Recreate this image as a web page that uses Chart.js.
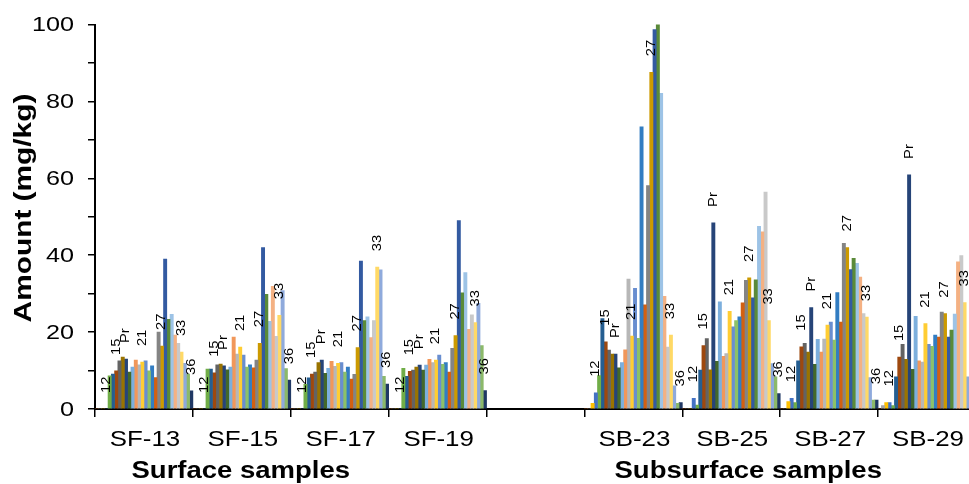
<!DOCTYPE html>
<html>
<head>
<meta charset="utf-8">
<script src="https://cdn.jsdelivr.net/npm/chart.js@4.4.1/dist/chart.umd.min.js"></script>
<style>
  html, body { margin: 0; padding: 0; background: #ffffff; overflow: hidden; }
  #wrap { width: 985px; height: 484px; }
</style>
</head>
<body>
<div id="wrap"><canvas id="c" width="985" height="484"></canvas></div>
<script>
// ---- data ----
const categories = ['SF-13', 'SF-15', 'SF-17', 'SF-19', '', 'SB-23', 'SB-25', 'SB-27', 'SB-29'];
const compounds = ['C9','C10','C11','C12','C13','C14','C15','C16','C17','Pr','C18','Ph',
  'C19','C20','C21','C22','C23','C24','C25','C26','C27','C28','C29','C30','C31','C32','C33','C34','C35','C36'];
const labelledCompounds = { C12: '12', C15: '15', Pr: 'Pr', C21: '21', C27: '27', C33: '33', C36: '36' };
const yTicks = [0, 20, 40, 60, 80, 100];
const groupTitles = ['Surface samples', 'Subsurface samples'];
const yTitle = 'Amount (mg/kg)';

const sf13 = [0,0,0,0, 8.6,9.1,9.9,12.5,13.5,13.0,9.6,10.9,12.7,11.5,12.2,12.5,9.9,11.2,8.2,20.0,16.4,39.0,23.3,24.6,19.2,17.1,14.8,11.9,9.1,4.7];
const sf15 = [0,0,0,0, 10.4,10.4,9.4,11.5,11.7,11.2,10.2,10.9,18.7,14.3,16.1,14.0,10.9,11.5,10.7,12.7,17.1,42.0,29.8,22.8,31.9,18.9,24.4,30.8,10.5,7.5];
const sf17 = [0,0,0,0, 6.4,8.1,9.1,9.6,12.1,12.7,9.3,10.6,12.4,11.1,11.9,12.1,9.6,10.9,7.8,9.0,16.0,38.5,23.0,24.0,18.6,23.0,36.9,36.2,8.5,6.5];
const sf19 = [0,0,0,0, 10.6,8.5,9.8,10.1,10.9,11.4,10.1,11.4,12.9,12.1,12.7,14.0,11.6,12.1,9.6,15.8,19.1,49.0,30.2,35.5,20.7,24.5,22.5,27.5,16.5,4.8];
const blank = null;
const sb23 = [0,0,1.5,4.2,8.7,23.5,17.5,15.3,14.3,14.3,10.7,12.1,15.4,33.8,19.0,31.4,18.4,73.4,27.1,58.1,87.6,98.7,100.5,82.1,29.3,16.1,19.2,6.0,1.5,1.7];
const sb25 = [0,0,0,2.8,1.0,10.1,16.5,18.3,10.2,48.4,12.4,27.9,13.7,14.4,25.4,21.4,23.0,24.0,27.6,33.5,34.1,28.9,33.6,47.5,46.1,56.4,23.0,11.8,8.4,4.0];
const sb27 = [0,0,1.9,2.8,1.7,12.5,16.2,17.1,14.8,26.4,11.6,18.1,14.8,18.2,21.8,22.6,17.9,30.3,22.6,43.1,42.0,36.3,39.2,37.9,34.3,24.8,23.9,8.2,2.3,2.3];
const sb29 = [0,0.9,1.7,1.7,0.9,8.4,13.5,16.8,12.9,60.9,10.3,24.1,12.5,12.2,22.2,16.8,16.3,19.2,18.7,25.2,24.8,18.7,20.5,24.7,38.3,39.9,27.7,8.4,6.0,4.0];

const samples = [sf13, sf15, sf17, sf19, blank, sb23, sb25, sb27, sb29];

const seriesColors = ['#ED7D31','#A5A5A5','#FFC000','#4472C4','#70AD47','#255E91','#9E480E','#636363','#997300','#264478',
  '#43682B','#7CAFDD','#F1975A','#B7B7B7','#FFCD33','#698ED0','#8CC168','#327DC2','#D26012','#848484',
  '#CC9A00','#335AA1','#5A8A39','#9DC3E6','#F4B183','#C9C9C9','#FFD966','#8FAADC','#8CB96A','#203864'];

// ---- build datasets (one per compound) ----
const datasets = compounds.map((name, k) => ({
  label: name,
  data: samples.map(s => (s === null ? null : s[k])),
  backgroundColor: seriesColors[k],
  borderWidth: 0,
  categoryPercentage: 1.0,
  barPercentage: 1.0
}));

const FONT = '"Liberation Sans", Arial, sans-serif';

// draw text stretched along its reading direction
function stretchedText(ctx, txt, x, y, rot, sx, align) {
  ctx.save();
  ctx.translate(x, y);
  if (rot) ctx.rotate(rot);
  ctx.scale(sx, 1);
  ctx.textAlign = align;
  ctx.fillText(txt, 0, 0);
  ctx.restore();
}

const textPlugin = {
  id: 'texts',
  afterDatasetsDraw(chart) {
    const ctx = chart.ctx;
    const xs = chart.scales.x;
    const ys = chart.scales.y;
    ctx.save();
    ctx.fillStyle = '#000';
    ctx.textBaseline = 'middle';

    // bar labels (rotated, above selected compounds)
    ctx.font = '12.5px ' + FONT;
    chart.data.datasets.forEach((ds, di) => {
      const txt = labelledCompounds[ds.label];
      if (!txt) return;
      const meta = chart.getDatasetMeta(di);
      meta.data.forEach((el, i) => {
        if (ds.data[i] === null || ds.data[i] === undefined) return;
        stretchedText(ctx, txt, el.x, el.y - 16, -Math.PI / 2, 1.18, 'left');
      });
    });

    // y tick labels
    ctx.font = '21px ' + FONT;
    yTicks.forEach(v => {
      stretchedText(ctx, String(v), ys.left + 74, ys.getPixelForValue(v) + 1, 0, 1.2, 'right');
    });

    // category labels
    ctx.font = '22.5px ' + FONT;
    categories.forEach((c, i) => {
      if (!c) return;
      stretchedText(ctx, c, xs.getPixelForValue(i) + 1, xs.top + 31, 0, 1.15, 'center');
    });

    // group titles
    ctx.font = 'bold 23.5px ' + FONT;
    const c1 = (xs.getPixelForValue(0) + xs.getPixelForValue(3)) / 2 - 50;
    const c2 = (xs.getPixelForValue(5) + xs.getPixelForValue(8)) / 2 - 32;
    stretchedText(ctx, groupTitles[0], c1, xs.top + 63, 0, 1.17, 'center');
    stretchedText(ctx, groupTitles[1], c2, xs.top + 63, 0, 1.17, 'center');

    // y axis title
    ctx.font = 'bold 23.5px ' + FONT;
    stretchedText(ctx, yTitle, 25, 208, -Math.PI / 2, 1.27, 'center');
    ctx.restore();
  }
};

new Chart(document.getElementById('c'), {
  type: 'bar',
  data: { labels: categories, datasets },
  options: {
    responsive: false,
    animation: false,
    devicePixelRatio: 1,
    layout: { padding: { top: 22, right: 9, left: 0, bottom: 0 } },
    plugins: { legend: { display: false }, tooltip: { enabled: false } },
    scales: {
      x: {
        grid: { display: true, drawOnChartArea: false, drawTicks: true, tickLength: 8, color: '#000', lineWidth: 1.5, offset: true },
        border: { display: true, color: '#000', width: 2 },
        ticks: { color: 'rgba(0,0,0,0)', font: { family: FONT, size: 22 }, padding: 9, maxRotation: 0, autoSkip: false },
        afterFit(scale) { scale.height = 75; }
      },
      y: {
        min: 0, max: 100,
        grid: { display: true, drawOnChartArea: false, drawTicks: true, tickLength: 7, color: '#000', lineWidth: 1.5 },
        border: { display: true, color: '#000', width: 2 },
        ticks: {
          stepSize: 10, color: 'rgba(0,0,0,0)', font: { family: FONT, size: 21 }, padding: 12,
          callback: (v) => (yTicks.includes(v) ? String(v) : '')
        },
        afterFit(scale) { scale.width = 95; }
      }
    }
  },
  plugins: [textPlugin]
});
</script>
</body>
</html>
